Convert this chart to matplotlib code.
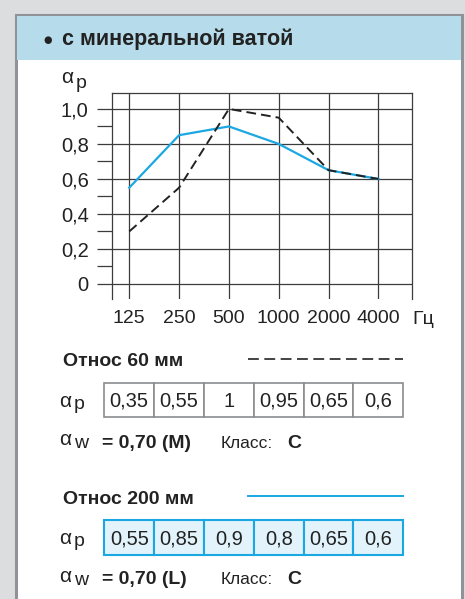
import matplotlib
matplotlib.use("Agg")
import matplotlib.pyplot as plt
from matplotlib.patches import Rectangle
import numpy as np

plt.rcParams['font.family'] = ['Liberation Sans', 'DejaVu Sans']

# data
freqs = ["125", "250", "500", "1000", "2000", "4000"]
otnos60_line = [0.30, 0.55, 1.0, 0.95, 0.65, 0.60]
otnos200_line = [0.55, 0.85, 0.90, 0.80, 0.65, 0.60]
otnos60_table = ["0,35", "0,55", "1", "0,95", "0,65", "0,6"]
otnos200_table = ["0,55", "0,85", "0,9", "0,8", "0,65", "0,6"]
yticks = [0, 0.2, 0.4, 0.6, 0.8, 1.0]
ytick_labels = ["0", "0,2", "0,4", "0,6", "0,8", "1,0"]

W, H = 465, 599
BG = "#dcdddf"
FRAME = "#8f9398"
HEADER = "#b6dbea"
CYAN = "#1ba8e2"
DARK = "#222222"
GRID = "#3c3c3c"


def fr(x0, y0, x1, y1):
    # pixel box -> figure fraction rect
    return [x0 / W, (H - y1) / H, (x1 - x0) / W, (y1 - y0) / H]


fig = plt.figure(figsize=(W / 100, H / 100), dpi=100, facecolor=BG)

# background panel in pixel coordinates
bg = fig.add_axes([0, 0, 1, 1])
bg.set_xlim(0, W)
bg.set_ylim(H, 0)
bg.axis("off")
bg.add_patch(Rectangle((16, 15), 446, 600, facecolor="white", edgecolor=FRAME, lw=2.2))
bg.add_patch(Rectangle((17.2, 16.2), 443.6, 44, facecolor=HEADER, edgecolor="none"))
bg.text(48, 40, "\u25cf", fontsize=7, color=DARK, va="center", ha="center",
        family="DejaVu Sans")
bg.text(62, 39, "с минеральной ватой", fontsize=15.5, fontweight="bold",
        color=DARK, va="center", ha="left")

x = np.arange(len(freqs))
xlim = (-0.346, 5.668)

# main chart
ax = fig.add_axes(fr(112, 93, 411.7, 299))
ax.set_facecolor("none")
ax.plot(x, otnos200_line, color=CYAN, lw=1.6, zorder=3)
ax.plot(x, otnos60_line, color=DARK, lw=1.4, dashes=(5, 2.6), zorder=4)
ax.set_xlim(*xlim)
ax.set_ylim(-0.0857, 1.091)
ax.set_xticks(x)
ax.set_xticklabels(freqs)
ax.set_yticks(yticks)
ax.set_yticklabels(ytick_labels)
ax.set_yticks([0.1, 0.3, 0.5, 0.7, 0.9], minor=True)
ax.tick_params(axis="x", length=0, pad=8, labelsize=14, colors=DARK)
ax.tick_params(axis="y", which="both", length=10.8, width=0.9, color=GRID,
               pad=6, labelsize=14.5, labelcolor=DARK)
ax.grid(True, which="major", color=GRID, lw=0.9)
for s in ["left", "top", "right"]:
    ax.spines[s].set_color(GRID)
    ax.spines[s].set_linewidth(0.9)
ax.spines["bottom"].set_visible(False)
ax.set_axisbelow(True)

bg.text(412, 319, "Гц", fontsize=14, color=DARK, va="center", ha="left")


def alpha_label(xp, yb, sub, dy):
    bg.text(xp, yb, "α", fontsize=15, color=DARK, va="baseline", ha="left")
    bg.text(xp + 15, yb + dy, sub, fontsize=14, color=DARK, va="baseline", ha="left")


alpha_label(61, 83, "p", 5)


def draw_table(y0, y1, values, edge, face, lw):
    tab = fig.add_axes(fr(112, y0, 411.7, y1))
    tab.set_xlim(*xlim)
    tab.set_ylim(0, 1)
    tab.axis("off")
    for i, v in enumerate(values):
        tab.add_patch(Rectangle((i - 0.5, 0), 1, 1, facecolor=face, edgecolor=edge,
                                lw=lw, clip_on=False))
        tab.text(i, 0.47, v, ha="center", va="center", fontsize=14.5, color=DARK)


# block 1
bg.text(63, 362, "Относ 60 мм", fontsize=14, fontweight="bold", color=DARK, va="center")
bg.plot([248, 403], [359, 359], color=DARK, lw=1.2, dashes=(6.5, 3.3))
draw_table(383, 417, otnos60_table, "#8a8d90", "white", 1.2)
alpha_label(59, 407, "p", 2)
alpha_label(59, 445, "w", 3)
bg.text(102, 448, "= 0,70 (M)", fontsize=14, fontweight="bold", color=DARK, va="baseline")
bg.text(221, 448, "Класс:", fontsize=12.5, color=DARK, va="baseline")
bg.text(287, 448, "C", fontsize=14, fontweight="bold", color=DARK, va="baseline")

# block 2
bg.text(63, 499, "Относ 200 мм", fontsize=14, fontweight="bold", color=DARK, va="center")
bg.plot([248, 403], [496, 496], color=CYAN, lw=1.4)
draw_table(520, 555, otnos200_table, CYAN, "#e2f3fb", 1.5)
alpha_label(59, 544, "p", 2)
alpha_label(59, 582, "w", 3)
bg.text(102, 584, "= 0,70 (L)", fontsize=14, fontweight="bold", color=DARK, va="baseline")
bg.text(221, 584, "Класс:", fontsize=12.5, color=DARK, va="baseline")
bg.text(287, 584, "C", fontsize=14, fontweight="bold", color=DARK, va="baseline")

fig.savefig("out.png", dpi=100, facecolor=BG)
